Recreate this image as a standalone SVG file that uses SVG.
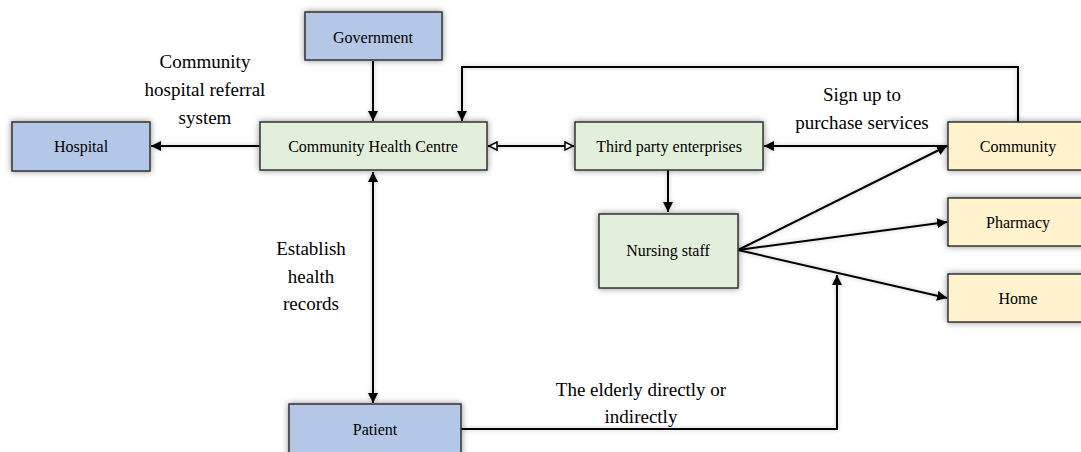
<svg xmlns="http://www.w3.org/2000/svg" width="1081" height="452" viewBox="0 0 1081 452">
<defs>
<filter id="sh" x="-20%" y="-30%" width="140%" height="160%">
<feDropShadow dx="0" dy="0" stdDeviation="3" flood-color="#000" flood-opacity="0.45"/>
</filter>
<filter id="lsh" x="-10%" y="-10%" width="120%" height="120%">
<feDropShadow dx="0" dy="0" stdDeviation="2" flood-color="#000" flood-opacity="0.25"/>
</filter>
<marker id="ah" viewBox="0 0 10 10" refX="10" refY="5" markerWidth="10" markerHeight="10" markerUnits="userSpaceOnUse" orient="auto-start-reverse">
<path d="M0,0 L10,5 L0,10 Z" fill="#000"/>
</marker>
<marker id="oh" viewBox="0 0 10 10" refX="10" refY="5" markerWidth="10" markerHeight="10" markerUnits="userSpaceOnUse" orient="auto-start-reverse">
<path d="M1,1 L9,5 L1,9 Z" fill="#fff" stroke="#000" stroke-width="1.5"/>
</marker>
</defs>
<style>
.box{stroke:#333;stroke-width:1.5;filter:url(#sh)}
.blue{fill:#B4C7E7}
.green{fill:#E2EFDA}
.yellow{fill:#FFF2CC}
text{font-family:"Liberation Serif","Times New Roman",Tinos,"DejaVu Serif",serif}
.nt{font-size:16px;fill:#000;text-anchor:middle;dominant-baseline:central}
.lb{font-size:19px;fill:#000;text-anchor:middle}
.c{fill:none;stroke:#000;stroke-width:2}
</style>
<rect width="1081" height="452" fill="#fff"/>
<g id="connectors" filter="url(#lsh)">
<line class="c" x1="373" y1="61" x2="373" y2="121" marker-end="url(#ah)"/>
<line class="c" x1="260" y1="146" x2="151" y2="146" marker-end="url(#ah)"/>
<line class="c" x1="488" y1="146" x2="574" y2="146" marker-start="url(#oh)" marker-end="url(#oh)"/>
<line class="c" x1="373" y1="172" x2="373" y2="403" marker-start="url(#ah)" marker-end="url(#ah)"/>
<polyline class="c" points="1018,122 1018,67 462,67 462,121" marker-end="url(#ah)"/>
<line class="c" x1="948" y1="146" x2="764" y2="146" marker-end="url(#ah)"/>
<line class="c" x1="668" y1="170" x2="668" y2="212" marker-end="url(#ah)"/>
<line class="c" x1="738" y1="250" x2="947" y2="146" marker-end="url(#ah)"/>
<line class="c" x1="738" y1="250" x2="947" y2="222" marker-end="url(#ah)"/>
<line class="c" x1="738" y1="250" x2="947" y2="298" marker-end="url(#ah)"/>
<polyline class="c" points="461,429 837,429 837,275" marker-end="url(#ah)"/>
</g>
<g id="government"><rect class="box blue" x="305" y="12" width="137" height="48"/><text class="nt" x="373" y="37" font-family="Liberation Serif, serif">Government</text></g>
<g id="hospital"><rect class="box blue" x="12" y="122" width="138" height="49"/><text class="nt" x="81" y="146">Hospital</text></g>
<g id="chc"><rect class="box green" x="260" y="122" width="227" height="48"/><text class="nt" x="373" y="146">Community Health Centre</text></g>
<g id="third-party"><rect class="box green" x="575" y="122" width="188" height="48"/><text class="nt" x="669" y="146">Third party enterprises</text></g>
<g id="community"><rect class="box yellow" x="948" y="122" width="140" height="48"/><text class="nt" x="1018" y="146">Community</text></g>
<g id="pharmacy"><rect class="box yellow" x="948" y="198" width="140" height="48"/><text class="nt" x="1018" y="222">Pharmacy</text></g>
<g id="home"><rect class="box yellow" x="948" y="274" width="140" height="48"/><text class="nt" x="1018" y="298">Home</text></g>
<g id="nursing"><rect class="box green" x="599" y="214" width="139" height="74"/><text class="nt" x="668" y="250">Nursing staff</text></g>
<g id="patient"><rect class="box blue" x="289" y="404" width="172" height="52"/><text class="nt" x="375" y="429">Patient</text></g>
<g id="labels">
<text class="lb" x="205" y="68">Community</text>
<text class="lb" x="205" y="96">hospital referral</text>
<text class="lb" x="205" y="124">system</text>
<text class="lb" x="862" y="101">Sign up to</text>
<text class="lb" x="862" y="129">purchase services</text>
<text class="lb" x="311" y="255">Establish</text>
<text class="lb" x="311" y="283">health</text>
<text class="lb" x="311" y="310">records</text>
<text class="lb" x="641" y="396">The elderly directly or</text>
<text class="lb" x="641" y="423">indirectly</text>
</g>
</svg>
